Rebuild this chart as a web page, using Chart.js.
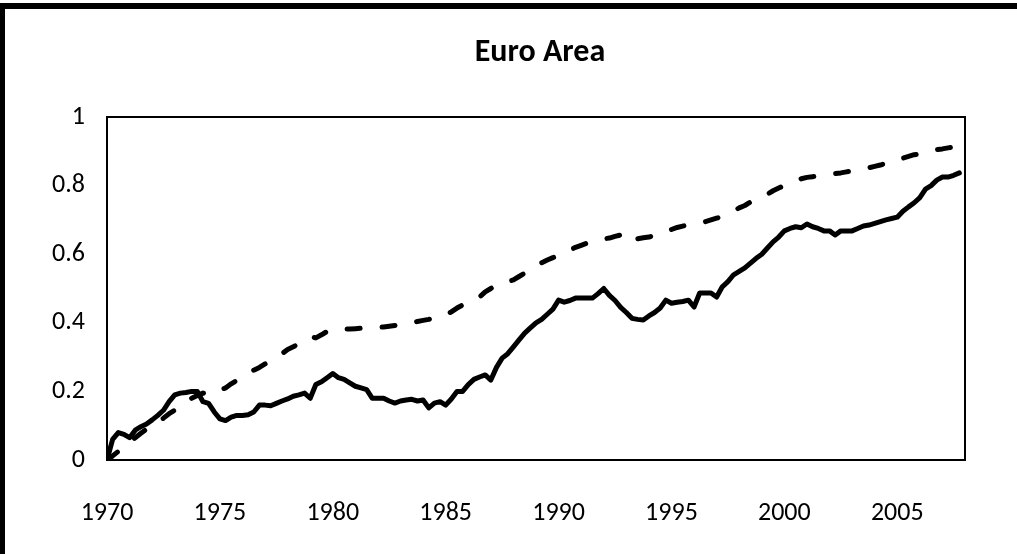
<!DOCTYPE html>
<html>
<head>
<meta charset="utf-8">
<title>Euro Area</title>
<script src="https://cdn.jsdelivr.net/npm/chart.js@4/dist/chart.umd.min.js"></script>
<style>
  html, body { margin: 0; padding: 0; background: #fff; }
  #wrap { position: relative; width: 1017px; height: 554px; overflow: hidden; }
  #frame { position: absolute; left: 0; top: 3px; right: -10px; bottom: -10px;
           border-top: 6px solid #000; border-left: 5px solid #000; pointer-events: none; }
</style>
</head>
<body>
<div id="wrap">
  <canvas id="chart" width="1017" height="554"></canvas>
  <div id="frame"></div>
</div>
<script>
// Quarterly series, 1970Q1 .. 2007Q4 (one row per year: Q1..Q4)
const firstYear = 1970;
const yearTicks = [1970, 1975, 1980, 1985, 1990, 1995, 2000, 2005];
const yTicks = [0, 0.2, 0.4, 0.6, 0.8, 1];
const chartTitle = 'Euro Area';

const solidValues = [
  0.00, 0.06, 0.08, 0.075,     // 1970
  0.065, 0.087, 0.097, 0.105,  // 1971
  0.117, 0.13, 0.145, 0.17,    // 1972
  0.19, 0.195, 0.197, 0.2,     // 1973
  0.2, 0.17, 0.165, 0.14,      // 1974
  0.12, 0.115, 0.125, 0.13,    // 1975
  0.13, 0.132, 0.14, 0.16,     // 1976
  0.16, 0.158, 0.165, 0.172,   // 1977
  0.178, 0.186, 0.19, 0.195,   // 1978
  0.18, 0.22, 0.228, 0.24,     // 1979
  0.252, 0.24, 0.235, 0.225,   // 1980
  0.215, 0.21, 0.205, 0.18,    // 1981
  0.18, 0.18, 0.172, 0.166,    // 1982
  0.172, 0.175, 0.177, 0.172,  // 1983
  0.175, 0.152, 0.166, 0.17,   // 1984
  0.16, 0.178, 0.2, 0.2,       // 1985
  0.22, 0.235, 0.242, 0.248,   // 1986
  0.233, 0.27, 0.297, 0.31,    // 1987
  0.33, 0.35, 0.37, 0.385,     // 1988
  0.4, 0.41, 0.425, 0.44,      // 1989
  0.466, 0.46, 0.465, 0.472,   // 1990
  0.472, 0.472, 0.472, 0.485,  // 1991
  0.5, 0.48, 0.465, 0.445,     // 1992
  0.43, 0.413, 0.41, 0.408,    // 1993
  0.42, 0.43, 0.443, 0.466,    // 1994
  0.457, 0.46, 0.462, 0.466,   // 1995
  0.446, 0.487, 0.487, 0.487,  // 1996
  0.475, 0.505, 0.52, 0.54,    // 1997
  0.55, 0.56, 0.574, 0.588,    // 1998
  0.6, 0.618, 0.636, 0.65,     // 1999
  0.668, 0.675, 0.68, 0.677,   // 2000
  0.688, 0.68, 0.675, 0.668,   // 2001
  0.668, 0.656, 0.668, 0.668,  // 2002
  0.668, 0.675, 0.682, 0.685,  // 2003
  0.69, 0.695, 0.7, 0.704,     // 2004
  0.708, 0.725, 0.738, 0.75,   // 2005
  0.765, 0.79, 0.8, 0.816,     // 2006
  0.825, 0.825, 0.83, 0.837    // 2007
];

const dashedValues = [
  0.0, 0.012, 0.025, 0.035,    // 1970
  0.05, 0.065, 0.078, 0.09,    // 1971
  0.1, 0.11, 0.122, 0.135,     // 1972
  0.145, 0.155, 0.17, 0.18,    // 1973
  0.188, 0.195, 0.19, 0.197,   // 1974
  0.204, 0.21, 0.222, 0.232,   // 1975
  0.242, 0.252, 0.262, 0.27,   // 1976
  0.28, 0.29, 0.3, 0.31,       // 1977
  0.322, 0.33, 0.34, 0.35,     // 1978
  0.36, 0.356, 0.365, 0.375,   // 1979
  0.38, 0.382, 0.382, 0.382,   // 1980
  0.383, 0.384, 0.385, 0.385,  // 1981
  0.386, 0.388, 0.39, 0.392,   // 1982
  0.394, 0.397, 0.4, 0.404,    // 1983
  0.407, 0.41, 0.414, 0.418,   // 1984
  0.423, 0.432, 0.443, 0.452,  // 1985
  0.458, 0.466, 0.475, 0.49,   // 1986
  0.5, 0.51, 0.515, 0.52,      // 1987
  0.525, 0.535, 0.545, 0.555,  // 1988
  0.563, 0.575, 0.583, 0.59,   // 1989
  0.595, 0.605, 0.612, 0.62,   // 1990
  0.626, 0.632, 0.638, 0.642,  // 1991
  0.645, 0.647, 0.652, 0.656,  // 1992
  0.636, 0.64, 0.645, 0.648,   // 1993
  0.65, 0.655, 0.66, 0.665,    // 1994
  0.672, 0.678, 0.682, 0.685,  // 1995
  0.688, 0.692, 0.695, 0.7,    // 1996
  0.705, 0.71, 0.718, 0.726,   // 1997
  0.735, 0.742, 0.752, 0.76,   // 1998
  0.767, 0.775, 0.785, 0.793,  // 1999
  0.8, 0.808, 0.815, 0.82,     // 2000
  0.824, 0.826, 0.828, 0.83,   // 2001
  0.832, 0.835, 0.837, 0.84,   // 2002
  0.843, 0.845, 0.848, 0.852,  // 2003
  0.856, 0.86, 0.865, 0.87,    // 2004
  0.876, 0.88, 0.885, 0.89,    // 2005
  0.892, 0.897, 0.9, 0.905,    // 2006
  0.907, 0.91, 0.912, 0.915    // 2007
];

// quarter positions on the time axis
const quarterAt = i => firstYear + i / 4;
const toPoints = vals => vals.map((v, i) => ({ x: quarterAt(i), y: v }));

const FONT = "Carlito, Calibri, Lato, 'Open Sans', sans-serif";

// plot box around the chart area + title centred over the plot
const plotBox = {
  id: 'plotBox',
  beforeDatasetsDraw(chart) {
    const { ctx, chartArea: a } = chart;
    ctx.save();
    ctx.strokeStyle = '#000';
    ctx.lineWidth = 2;
    ctx.strokeRect(a.left, a.top, a.right - a.left, a.bottom - a.top);
    ctx.fillStyle = '#000';
    ctx.font = `bold 32px ${FONT}`;
    ctx.textAlign = 'center';
    ctx.textBaseline = 'middle';
    ctx.fillText(chartTitle, (a.left + a.right) / 2 + 4, 53);
    ctx.restore();
  }
};

new Chart(document.getElementById('chart').getContext('2d'), {
  type: 'line',
  data: {
    datasets: [
      { label: 'solid', data: toPoints(solidValues), borderColor: '#000', borderWidth: 5,
        pointRadius: 0, tension: 0, fill: false, borderJoinStyle: 'round', borderCapStyle: 'round' },
      { label: 'dashed', data: toPoints(dashedValues), borderColor: '#000', borderWidth: 5,
        borderDash: [13, 22], pointRadius: 0, tension: 0, fill: false,
        borderJoinStyle: 'round', borderCapStyle: 'round' }
    ]
  },
  plugins: [plotBox],
  options: {
    responsive: false, animation: false,
    layout: { padding: { left: 0, right: 52, top: 117, bottom: 0 } },
    plugins: {
      legend: { display: false },
      tooltip: { enabled: false },
      title: { display: false }
    },
    scales: {
      x: {
        type: 'linear', min: 1970, max: 2008,
        afterBuildTicks: s => { s.ticks = yearTicks.map(v => ({ value: v })); },
        afterFit: s => { s.height = 94; },
        grid: { display: false, drawTicks: false },
        border: { display: false },
        ticks: { color: '#000', padding: 38, maxRotation: 0, autoSkip: false,
                 font: { family: FONT, size: 26 }, callback: v => String(v) }
      },
      y: {
        min: 0, max: 1,
        afterBuildTicks: s => { s.ticks = yTicks.map(v => ({ value: v })); },
        afterFit: s => { s.width = 107; },
        grid: { display: false, drawTicks: false },
        border: { display: false },
        ticks: { color: '#000', padding: 22, font: { family: FONT, size: 26 },
                 callback: v => String(+v.toFixed(1)) }
      }
    }
  }
});
</script>
</body>
</html>
